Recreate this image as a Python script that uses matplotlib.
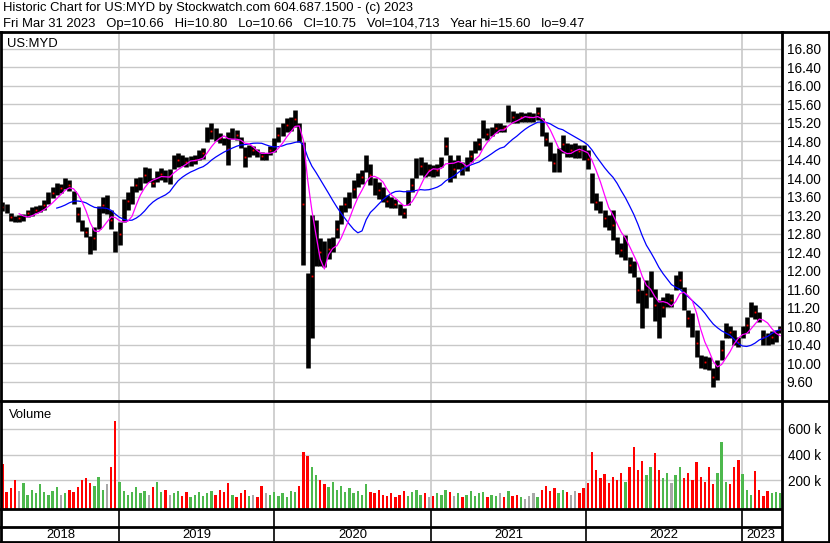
import numpy as np
import pandas as pd
import matplotlib
matplotlib.use("Agg")
import matplotlib.pyplot as plt
import matplotlib.dates as mdates
from matplotlib.lines import Line2D

# ---------------- data ----------------
high = [13.49, 13.45, 13.25, 13.18, 13.20, 13.22, 13.32, 13.38, 13.40, 13.42,
        13.52, 13.70, 13.80, 13.90, 13.88, 14.00, 13.96, 13.72, 13.38, 13.10,
        12.95, 12.75, 12.95, 13.40, 13.60, 13.64, 13.30, 12.85, 13.05, 13.55,
        13.70, 13.82, 14.00, 14.02, 14.25, 14.22, 14.00, 14.15, 14.22, 14.18,
        14.20, 14.50, 14.54, 14.50, 14.45, 14.48, 14.50, 14.60, 14.65, 15.10,
        15.19, 15.08, 14.98, 14.87, 15.00, 15.08, 15.05, 14.89, 14.68, 14.72,
        14.70, 14.62, 14.57, 14.55, 14.70, 14.87, 15.10, 15.19, 15.30, 15.32,
        15.47, 15.20, 14.78, 11.95, 13.20, 13.10, 12.70, 12.65, 12.70, 12.72,
        13.10, 13.42, 13.60, 13.70, 13.95, 14.10, 14.18, 14.50, 14.30, 14.00,
        13.92, 13.80, 13.64, 13.60, 13.55, 13.45, 13.35, 13.75, 14.00, 14.44,
        14.46, 14.35, 14.30, 14.28, 14.30, 14.46, 14.88, 14.50, 14.40, 14.50,
        14.35, 14.45, 14.60, 14.80, 14.87, 15.25, 15.08, 15.10, 15.20, 15.19,
        15.15, 15.58, 15.45, 15.40, 15.43, 15.40, 15.42, 15.40, 15.54, 15.30,
        15.00, 14.79, 14.54, 14.65, 14.93, 14.76, 14.74, 14.76, 14.72, 14.72,
        14.61, 14.11, 13.68, 13.50, 13.31, 13.20, 13.31, 12.73, 12.60, 12.77,
        12.30, 12.20, 11.86, 11.58, 11.80, 12.00, 11.60, 11.37, 11.43, 11.52,
        11.50, 11.90, 12.00, 11.65, 11.15, 11.08, 10.72, 10.17, 10.15, 10.13,
        9.90, 10.07, 10.50, 10.87, 10.80, 10.72, 10.57, 10.80, 11.00, 11.32,
        11.25, 11.10, 10.72, 10.65, 10.70, 10.72, 10.80]
low = [13.28, 13.25, 13.08, 13.05, 13.06, 13.08, 13.15, 13.18, 13.24, 13.26,
       13.32, 13.45, 13.56, 13.64, 13.68, 13.76, 13.72, 13.43, 13.06, 12.85,
       12.73, 12.35, 12.45, 12.90, 13.25, 13.22, 12.90, 12.41, 12.55, 13.05,
       13.30, 13.45, 13.70, 13.75, 13.90, 13.92, 13.80, 13.92, 13.95, 13.92,
       13.88, 14.20, 14.25, 14.26, 14.25, 14.26, 14.30, 14.40, 14.42, 14.78,
       14.85, 14.80, 14.76, 14.72, 14.28, 14.85, 14.82, 14.65, 14.25, 14.45,
       14.50, 14.45, 14.40, 14.39, 14.50, 14.57, 14.78, 14.90, 15.00, 15.02,
       15.10, 14.78, 12.12, 9.90, 10.55, 12.10, 12.10, 12.08, 12.25, 12.40,
       12.70, 13.00, 13.27, 13.35, 13.57, 13.80, 13.88, 14.13, 13.85, 13.64,
       13.55, 13.48, 13.38, 13.35, 13.35, 13.20, 13.14, 13.42, 13.70, 14.00,
       14.07, 14.03, 14.05, 14.03, 14.05, 14.24, 14.49, 13.92, 14.00, 14.20,
       14.07, 14.15, 14.35, 14.55, 14.60, 14.87, 14.82, 14.90, 14.97, 15.00,
       15.00, 15.21, 15.20, 15.19, 15.21, 15.22, 15.21, 15.21, 15.26, 14.90,
       14.70, 14.36, 14.13, 14.14, 14.54, 14.46, 14.46, 14.44, 14.44, 14.39,
       14.20, 13.46, 13.30, 13.25, 12.95, 12.88, 12.66, 12.35, 12.30, 12.23,
       11.95, 11.86, 11.30, 10.76, 11.20, 11.43, 10.90, 10.55, 11.00, 11.22,
       11.22, 11.58, 11.60, 11.15, 10.78, 10.57, 10.13, 9.90, 9.88, 9.85,
       9.49, 9.63, 10.07, 10.54, 10.55, 10.39, 10.35, 10.55, 10.65, 11.00,
       10.95, 10.89, 10.39, 10.39, 10.42, 10.46, 10.66]
volume_k = [330, 110, 140, 200, 120, 180, 90, 130, 100, 170,
            110, 90, 120, 150, 90, 100, 130, 110, 150, 200,
            220, 180, 160, 230, 130, 170, 300, 660, 190, 120,
            90, 110, 150, 100, 120, 90, 150, 190, 110, 130,
            90, 100, 120, 80, 110, 70, 90, 110, 80, 100,
            120, 90, 130, 110, 180, 90, 70, 100, 130, 80,
            90, 70, 160, 100, 90, 110, 80, 100, 70, 120,
            110, 160, 420, 390, 300, 240, 200, 170, 150, 190,
            130, 160, 110, 140, 100, 120, 90, 170, 110, 100,
            130, 90, 80, 100, 70, 90, 120, 80, 110, 130,
            90, 100, 70, 80, 100, 90, 130, 110, 80, 100,
            70, 90, 120, 80, 100, 110, 70, 90, 80, 100,
            70, 120, 80, 90, 70, 60, 80, 100, 70, 130,
            160, 120, 140, 100, 130, 110, 90, 120, 100, 140,
            180, 420, 280, 220, 250, 180, 230, 200, 260, 190,
            300, 460, 280, 350, 240, 300, 410, 280, 220, 260,
            180, 240, 300, 220, 260, 200, 340, 230, 190, 300,
            170, 260, 500, 190, 170, 300, 360, 250, 130, 90,
            270, 130, 80, 120, 100, 110, 105]
years = ["2018", "2019", "2020", "2021", "2022", "2023"]
price_ticks = [16.80, 16.40, 16.00, 15.60, 15.20, 14.80, 14.40, 14.00, 13.60,
               13.20, 12.80, 12.40, 12.00, 11.60, 11.20, 10.80, 10.40, 10.00, 9.60]
vol_ticks_k = [200, 400, 600]
header1 = "Historic Chart for US:MYD by Stockwatch.com 604.687.1500 - (c) 2023"
header2 = ("Fri Mar 31 2023   Op=10.66   Hi=10.80   Lo=10.66   Cl=10.75   "
           "Vol=104,713   Year hi=15.60   lo=9.47")

# ---------------- derived ----------------
hi = np.array(high)
lo = np.array(low)
vol = np.array(volume_k) * 1000.0
start = pd.Timestamp("2018-04-04")
end = pd.Timestamp("2023-03-31")
dates = pd.date_range(start, end, periods=len(hi))
mid = pd.Series((hi + lo) / 2.0)
ma_short = mid.rolling(5).mean()
ma_long = mid.rolling(14).mean()
chg = np.diff(np.concatenate([[mid[0] + 0.05], mid.values]))
vcolors = ["#A8A8A8" if abs(c) < 0.015 else ("#4DB84D" if c > 0 else "#FF0000")
           for c in chg]

# ---------------- layout ----------------
plt.rcParams['font.family'] = ['Liberation Sans', 'DejaVu Sans']
W, H = 830, 543
fig = plt.figure(figsize=(W / 100, H / 100), dpi=100)
fig.patch.set_facecolor("white")


def rect(x0, y0, x1, y1):
    return [x0 / W, 1 - y1 / H, (x1 - x0) / W, (y1 - y0) / H]


ax_p = fig.add_axes(rect(2, 32, 781, 400))
ax_v = fig.add_axes(rect(2, 402, 781, 509))
ax_s = fig.add_axes(rect(2, 509, 781, 527))
ax_y = fig.add_axes(rect(2, 527, 781, 541))

xlim = (mdates.date2num(start) - 1, mdates.date2num(end) + 2)
year_bounds = [pd.Timestamp(f"{y}-01-01") for y in range(2019, 2024)]
grid_c = "#C8C8C8"
fs = 9.4
fs_lab = 9.8

for ax in (ax_p, ax_v, ax_s, ax_y):
    ax.set_xlim(*xlim)
    ax.set_xticks([])
    for s in ax.spines.values():
        s.set_visible(False)
    ax.set_facecolor("white")

# price panel
ax_p.set_ylim(9.20, 17.16)
for t in price_ticks:
    ax_p.axhline(t, color=grid_c, lw=1.0, zorder=0)
for yb in year_bounds:
    ax_p.axvline(yb, color=grid_c, lw=1.2, zorder=0)
ax_p.vlines(dates, lo, hi, color="black", lw=3.3, zorder=2)
ax_p.plot(dates[::2], mid[::2], ls="none", marker="s", ms=1.3, color="#FF0000",
          mec="none", zorder=3)
ax_p.plot(dates, ma_long, color="#0000FF", lw=0.9, zorder=4)
ax_p.plot(dates, ma_short, color="#FF00FF", lw=0.9, zorder=4)
ax_p.yaxis.tick_right()
ax_p.set_yticks(price_ticks)
ax_p.set_yticklabels([f"{t:.2f}" for t in price_ticks], fontsize=fs_lab)
ax_p.tick_params(axis="y", length=0, pad=4)
ax_p.text(0.006, 0.985, "US:MYD", transform=ax_p.transAxes, fontsize=fs,
          ha="left", va="top")

# volume panel
vbot = -20000
ax_v.set_ylim(vbot, 805000)
for t in vol_ticks_k:
    ax_v.axhline(t * 1000, color=grid_c, lw=1.0, zorder=0)
for yb in year_bounds:
    ax_v.axvline(yb, color=grid_c, lw=1.2, zorder=0)
ax_v.bar(dates, vol - vbot, bottom=vbot, width=5.5, color=vcolors,
         linewidth=0, zorder=2)
ax_v.yaxis.tick_right()
ax_v.set_yticks([t * 1000 for t in vol_ticks_k])
ax_v.set_yticklabels([f"{t} k" for t in vol_ticks_k], fontsize=fs_lab)
ax_v.tick_params(axis="y", length=0, pad=5)
ax_v.text(0.009, 0.93, "Volume", transform=ax_v.transAxes, fontsize=fs,
          ha="left", va="top")

# strip & year band
for ax in (ax_s, ax_y):
    ax.set_ylim(0, 1)
    ax.set_yticks([])
    for yb in year_bounds:
        ax.axvline(yb, color="black", lw=1.2)
ybounds = [start] + year_bounds + [end]
for i, yr in enumerate(years):
    a = mdates.date2num(ybounds[i])
    b = mdates.date2num(ybounds[i + 1])
    ax_y.text((a + b) / 2, 0.45, yr, ha="center", va="center", fontsize=fs)


# frame lines (figure pixels)
def hline(y, x0, x1, lw=2.0):
    fig.add_artist(Line2D([x0 / W, x1 / W], [1 - y / H, 1 - y / H],
                          color="black", lw=lw, transform=fig.transFigure))


def vline(x, y0, y1, lw=2.0):
    fig.add_artist(Line2D([x / W, x / W], [1 - y0 / H, 1 - y1 / H],
                          color="black", lw=lw, transform=fig.transFigure))


hline(32, 0, 830)
hline(401, 0, 830)
hline(509, 0, 781)
hline(527, 0, 781)
hline(541.5, 0, 830)
vline(1, 32, 542)
vline(781.5, 32, 542)
vline(829, 32, 542)

fig.text(3 / W, 1 - 11.5 / H, header1, fontsize=fs, ha="left", va="baseline")
fig.text(3 / W, 1 - 26.5 / H, header2, fontsize=fs, ha="left", va="baseline")

fig.savefig("out.png", dpi=100, facecolor="white")
